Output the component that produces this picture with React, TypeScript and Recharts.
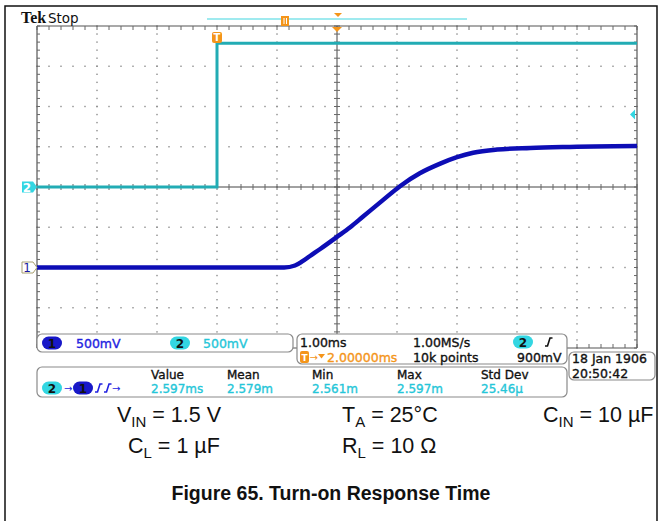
import { ComposedChart, Line, XAxis, YAxis, ReferenceLine, ReferenceDot } from 'recharts';

// time in ms, trigger at 0
const ch1Time = [-3, 1.12, 1.3, 1.42, 1.55, 1.72, 2.0, 2.22, 2.43, 2.77, 3.05, 3.38, 3.72, 4.0, 4.27, 4.67, 5.22, 5.77, 7];
const ch1Volts = [0, 0, 0.025, 0.075, 0.143, 0.23, 0.38, 0.5, 0.63, 0.84, 1.01, 1.17, 1.29, 1.37, 1.425, 1.465, 1.485, 1.497, 1.51];
const ch2Time = [-3, 0, 0, 7];
const ch2Volts = [0, 0, 1.785, 1.785];

const VOLTS_PER_DIV = 0.5;
const ch1Offset = -2;
const ch2Offset = 0;
const triggerTime = 0;
const centerTime = 2;
const triggerLevel = 0.9;

const xDomain = [-3, 7];
const yDomain = [-4, 4];
const xGrid = [-2, -1, 0, 1, 3, 4, 5, 6];
const yGrid = [-3, -2, -1, 1, 2, 3];

const scaleLabels = ['500mV', '500mV'];
const measureHeaders = ['Value', 'Mean', 'Min', 'Max', 'Std Dev'];
const measureValues = ['2.597ms', '2.579m', '2.561m', '2.597m', '25.46µ'];

const ch1Data = ch1Time.map((t, i) => ({ t, v: ch1Volts[i] / VOLTS_PER_DIV + ch1Offset }));
const ch2Data = ch2Time.map((t, i) => ({ t, v: ch2Volts[i] / VOLTS_PER_DIV + ch2Offset }));

const CH1 = '#0d0db5';
const CH2 = '#22acb4';
const CYAN_TXT = '#25c6d8';
const CYAN_FILL = '#33d6e2';
const BLUE_TXT = '#2222e0';
const ORANGE = '#f4951a';
const TEK = '"DejaVu Sans", sans-serif';
const ARIAL = '"Liberation Sans", Arial, sans-serif';

function steps(x1: number, y1: number, x2: number, y2: number) {
  const horiz = Math.abs(y1 - y2) < 0.5;
  const n = horiz ? 50 : 40;
  const pts: { x: number; y: number }[] = [];
  for (let i = 0; i <= n; i++) pts.push({ x: x1 + ((x2 - x1) * i) / n, y: y1 + ((y2 - y1) * i) / n });
  return { horiz, pts };
}

function DotLine(props: any) {
  const { pts } = steps(props.x1, props.y1, props.x2, props.y2);
  return (
    <g>
      {pts.map((p, i) => (
        <rect key={i} x={p.x - 0.7} y={p.y - 0.7} width={1.4} height={1.4} fill="#8c8c8c" />
      ))}
    </g>
  );
}

function CenterLine(props: any) {
  const { x1, y1, x2, y2 } = props;
  const { horiz, pts } = steps(x1, y1, x2, y2);
  return (
    <g>
      <line x1={x1} y1={y1} x2={x2} y2={y2} stroke="#444" strokeWidth={1} />
      {pts.map((p, i) =>
        horiz ? (
          <line key={i} x1={p.x} y1={p.y - 3} x2={p.x} y2={p.y + 3} stroke="#666" strokeWidth={1} />
        ) : (
          <line key={i} x1={p.x - 3} y1={p.y} x2={p.x + 3} y2={p.y} stroke="#666" strokeWidth={1} />
        ),
      )}
    </g>
  );
}

const edge = (dx: number, dy: number) =>
  function EdgeLine(props: any) {
    const { x1, y1, x2, y2 } = props;
    const { pts } = steps(x1, y1, x2, y2);
    return (
      <g>
        <line x1={x1} y1={y1} x2={x2} y2={y2} stroke="#555" strokeWidth={1.2} />
        {pts.map((p, i) => (
          <line key={i} x1={p.x} y1={p.y} x2={p.x + dx} y2={p.y + dy} stroke="#666" strokeWidth={1} />
        ))}
      </g>
    );
  };

function Ch2Marker(props: any) {
  const { cx, cy } = props;
  return (
    <g>
      <path d={`M${cx - 15},${cy - 5.5} L${cx - 4},${cy - 5.5} L${cx},${cy} L${cx - 4},${cy + 5.5} L${cx - 15},${cy + 5.5} Z`} fill={CYAN_FILL} />
      <text x={cx - 10} y={cy + 4.5} fontFamily={TEK} fontSize={12} fontWeight="bold" fill="#fff" textAnchor="middle">2</text>
    </g>
  );
}

function Ch1Marker(props: any) {
  const { cx, cy } = props;
  return (
    <g>
      <path d={`M${cx - 15},${cy - 5.5} L${cx - 4},${cy - 5.5} L${cx},${cy} L${cx - 4},${cy + 5.5} L${cx - 15},${cy + 5.5} Z`} fill="#fff" stroke="#a8a070" strokeWidth={1} />
      <text x={cx - 10} y={cy + 4.5} fontFamily={TEK} fontSize={12} fill="#1a1aa0" textAnchor="middle">1</text>
    </g>
  );
}

function TrigMarker(props: any) {
  const { cx, cy } = props;
  return (
    <g>
      <rect x={cx - 5} y={cy + 6} width={10} height={11} rx={2} fill={ORANGE} />
      <text x={cx} y={cy + 15} fontFamily={TEK} fontSize={10} fontWeight="bold" fill="#fff" textAnchor="middle">T</text>
    </g>
  );
}

function CenterMarker(props: any) {
  const { cx, cy } = props;
  return <path d={`M${cx - 5},${cy + 1} L${cx + 5},${cy + 1} L${cx},${cy + 6} Z`} fill={ORANGE} />;
}

function LevelMarker(props: any) {
  const { cx, cy } = props;
  return <path d={`M${cx - 7},${cy} L${cx - 2},${cy - 5} L${cx - 2},${cy + 5} Z`} fill={CYAN_FILL} />;
}

function Pill({ x, cy, label, fill, color }: { x: number; cy: number; label: string; fill: string; color: string }) {
  return (
    <g>
      <rect x={x} y={cy - 6.5} width={20} height={13} rx={6.5} fill={fill} />
      <text x={x + 10} y={cy + 4.5} fontFamily={TEK} fontSize={12} fontWeight="bold" fill={color} textAnchor="middle">{label}</text>
    </g>
  );
}

function Edge({ x, cy, color }: { x: number; cy: number; color: string }) {
  return <path d={`M${x},${cy + 4} L${x + 2.5},${cy + 4} L${x + 5},${cy - 4} L${x + 7.5},${cy - 4}`} stroke={color} strokeWidth={1.6} fill="none" />;
}

function Txt({ x, cy, color = '#111', size = 12.5, children }: { x: number; cy: number; color?: string; size?: number; children: any }) {
  return (
    <text x={x} y={cy + size * 0.36} fontFamily={TEK} fontSize={size} fill={color} stroke={color} strokeWidth={0.35}>{children}</text>
  );
}

function Param({ x, y, main, sub, rest }: { x: number; y: number; main: string; sub: string; rest: string }) {
  return (
    <text x={x} y={y} fontFamily={ARIAL} fontSize={21.5} fill="#111">
      <tspan>{main}</tspan>
      <tspan fontSize={15} dy={5}>{sub}</tspan>
      <tspan dy={-5}>{rest}</tspan>
    </text>
  );
}

function Overlay() {
  const box = { fill: '#fff', stroke: '#8a8a8a', strokeWidth: 1.2 };
  const colX = [151, 227, 312, 397, 481];
  return (
    <svg width={660} height={521} style={{ position: 'absolute', left: 0, top: 0, pointerEvents: 'none' }}>
      {/* frame */}
      <path d="M5,521 L5,6 L657,6 L657,521" fill="none" stroke="#111" strokeWidth={1.5} />
      <text x={21} y={23} fontFamily='"Liberation Serif", serif' fontWeight="bold" fontSize={16} fill="#111">Tek</text>
      <text x={48} y={23} fontFamily={TEK} fontSize={13.5} fill="#111">Stop</text>
      {/* record bar */}
      <line x1={207} y1={19} x2={467} y2={19} stroke="#7fe3ea" strokeWidth={1.5} />
      <rect x={281} y={16} width={8} height={10} fill={ORANGE} />
      <line x1={284} y1={18} x2={284} y2={24} stroke="#fff" strokeWidth={1} />
      <line x1={286.5} y1={18} x2={286.5} y2={24} stroke="#fff" strokeWidth={1} />
      <path d="M334,13 L342,13 L338,17 Z" fill={ORANGE} />

      {/* channel scale box */}
      <rect x={37} y={334} width={256} height={18} rx={5} {...box} />
      <Pill x={42} cy={343} label="1" fill="#1818c8" color="#111" />
      <Txt x={76} cy={343} color={BLUE_TXT}>{scaleLabels[0]}</Txt>
      <Pill x={170} cy={343} label="2" fill={CYAN_FILL} color="#111" />
      <Txt x={203} cy={343} color={CYAN_TXT}>{scaleLabels[1]}</Txt>

      {/* horizontal / trigger box */}
      <rect x={297} y={334} width={270} height={30} rx={5} {...box} />
      <Txt x={300} cy={342}>1.00ms</Txt>
      <Txt x={413} cy={342}>1.00MS/s</Txt>
      <Pill x={513} cy={342} label="2" fill={CYAN_FILL} color="#111" />
      <Edge x={545} cy={342} color="#111" />
      <rect x={300} y={351} width={9} height={12} rx={2} fill={ORANGE} />
      <text x={304.5} y={361} fontFamily={TEK} fontSize={9} fontWeight="bold" fill="#fff" textAnchor="middle">T</text>
      <text x={309.5} y={361} fontFamily={TEK} fontSize={10} fill={ORANGE}>→</text>
      <path d="M318,354 L325,354 L321.5,358.5 Z" fill={ORANGE} />
      <Txt x={327} cy={357} color={ORANGE}>2.00000ms</Txt>
      <Txt x={413} cy={357}>10k points</Txt>
      <Txt x={517} cy={357}>900mV</Txt>

      {/* date box */}
      <rect x={569} y={352} width={86} height={28} rx={5} {...box} />
      <Txt x={572} cy={358}>18 Jan  1906</Txt>
      <Txt x={572} cy={373}>20:50:42</Txt>

      {/* measurement box */}
      <rect x={37} y={367} width={530} height={30} rx={5} {...box} />
      <Pill x={42} cy={388} label="2" fill={CYAN_FILL} color="#111" />
      <text x={64} y={392} fontFamily={TEK} fontSize={10} fill={BLUE_TXT}>→</text>
      <Pill x={73} cy={388} label="1" fill="#1818c8" color="#111" />
      <Edge x={95} cy={388} color={BLUE_TXT} />
      <Edge x={104} cy={388} color={BLUE_TXT} />
      <text x={112} y={392} fontFamily={TEK} fontSize={10} fill={BLUE_TXT}>→</text>
      {measureHeaders.map((h, i) => (
        <Txt key={h} x={colX[i]} cy={374.5} size={12}>{h}</Txt>
      ))}
      {measureValues.map((v, i) => (
        <Txt key={i} x={colX[i]} cy={388.5} size={12} color={CYAN_TXT}>{v}</Txt>
      ))}

      {/* test conditions */}
      <Param x={117} y={422} main="V" sub="IN" rest=" = 1.5 V" />
      <Param x={342} y={422} main="T" sub="A" rest=" = 25°C" />
      <Param x={543} y={422} main="C" sub="IN" rest=" = 10 µF" />
      <Param x={128} y={453} main="C" sub="L" rest=" = 1 µF" />
      <Param x={342} y={453} main="R" sub="L" rest=" = 10 Ω" />
      <text x={331} y={500} fontFamily={ARIAL} fontWeight="bold" fontSize={19.5} fill="#111" textAnchor="middle">
        Figure 65. Turn-on Response Time
      </text>
    </svg>
  );
}

export default function App() {
  return (
    <div style={{ position: 'absolute', left: 0, top: 0, width: 660, height: 521, background: '#fff', overflow: 'hidden' }}>
      <ComposedChart width={660} height={521} margin={{ top: 26, right: 23, bottom: 173, left: 37 }}>
        <XAxis type="number" dataKey="t" domain={xDomain} hide allowDataOverflow />
        <YAxis type="number" domain={yDomain} hide allowDataOverflow />
        {xGrid.map(x => (
          <ReferenceLine key={`x${x}`} x={x} shape={DotLine} />
        ))}
        {yGrid.map(y => (
          <ReferenceLine key={`y${y}`} y={y} shape={DotLine} />
        ))}
        <ReferenceLine x={centerTime} shape={CenterLine} />
        <ReferenceLine y={0} shape={CenterLine} />
        <ReferenceLine y={yDomain[1]} shape={edge(0, 4)} />
        <ReferenceLine y={yDomain[0]} shape={edge(0, -4)} />
        <ReferenceLine x={xDomain[0]} shape={edge(3, 0)} />
        <ReferenceLine x={xDomain[1]} shape={edge(-3, 0)} />

        <Line data={ch2Data} dataKey="v" type="linear" stroke={CH2} strokeWidth={3} dot={false} activeDot={false} isAnimationActive={false} />
        <Line data={ch1Data} dataKey="v" type="monotone" stroke={CH1} strokeWidth={4.5} dot={false} activeDot={false} isAnimationActive={false} />

        <ReferenceDot x={xDomain[0]} y={ch2Offset} shape={Ch2Marker} ifOverflow="visible" />
        <ReferenceDot x={xDomain[0]} y={ch1Offset} shape={Ch1Marker} ifOverflow="visible" />
        <ReferenceDot x={triggerTime} y={yDomain[1]} shape={TrigMarker} ifOverflow="visible" />
        <ReferenceDot x={centerTime} y={yDomain[1]} shape={CenterMarker} ifOverflow="visible" />
        <ReferenceDot x={xDomain[1]} y={triggerLevel / VOLTS_PER_DIV + ch2Offset} shape={LevelMarker} ifOverflow="visible" />
      </ComposedChart>
      <Overlay />
    </div>
  );
}
